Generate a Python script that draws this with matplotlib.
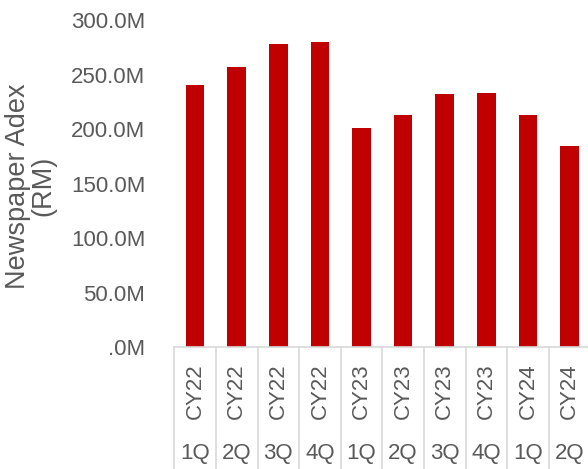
import matplotlib.pyplot as plt
import matplotlib.transforms as mtransforms

plt.rcParams['font.family'] = ['Liberation Sans', 'DejaVu Sans']

# data
years = ['CY22', 'CY22', 'CY22', 'CY22', 'CY23', 'CY23', 'CY23', 'CY23', 'CY24', 'CY24']
quarters = ['1Q', '2Q', '3Q', '4Q', '1Q', '2Q', '3Q', '4Q', '1Q', '2Q']
adex = [240.4e6, 257.5e6, 278.3e6, 280.1e6, 201.2e6, 213.5e6, 232.1e6, 233.3e6, 213.5e6, 184.7e6]
yticks = [0, 50e6, 100e6, 150e6, 200e6, 250e6, 300e6]
ytick_labels = ['.0M', '50.0M', '100.0M', '150.0M', '200.0M', '250.0M', '300.0M']

grey = '#595959'
line_grey = '#d9d9d9'
fs = 16

fig = plt.figure(figsize=(5.88, 4.69), dpi=100)
ax = fig.add_axes([174.3 / 588, 121.7 / 469, 416 / 588, 327 / 469])

x = list(range(len(adex)))
ax.bar(x, adex, width=0.45, color='#c00000')
ax.set_xlim(-0.5, len(adex) - 0.5)
ax.set_ylim(0, 300e6)

ax.set_yticks(yticks)
ax.set_yticklabels(ytick_labels, fontsize=fs, color=grey)
ax.tick_params(axis='y', length=0, pad=21)
ax.set_xticks([])

for s in ['top', 'right', 'left']:
    ax.spines[s].set_visible(False)
ax.spines['bottom'].set_color(line_grey)
ax.spines['bottom'].set_linewidth(1.2)

# two-level category axis
trans = mtransforms.blended_transform_factory(ax.transData, ax.transAxes)
bottom = -121.7 / 327
for b in range(len(adex) + 1):
    ax.plot([b - 0.5, b - 0.5], [0, bottom], transform=trans, color=line_grey,
            lw=1.2, clip_on=False)
for i in x:
    ax.text(i, -44 / 327, years[i], transform=trans, rotation=90, ha='center',
            va='center', fontsize=fs, color=grey)
    ax.text(i, -106 / 327, quarters[i], transform=trans, ha='center',
            va='center', fontsize=fs, color=grey)

fig.text(30.5 / 588, 1 - 186 / 469, 'Newspaper Adex\n(RM)', rotation=90,
         ha='center', va='center', multialignment='center', linespacing=0.95,
         fontsize=19.5, color=grey)

fig.savefig('out.png', dpi=100)
